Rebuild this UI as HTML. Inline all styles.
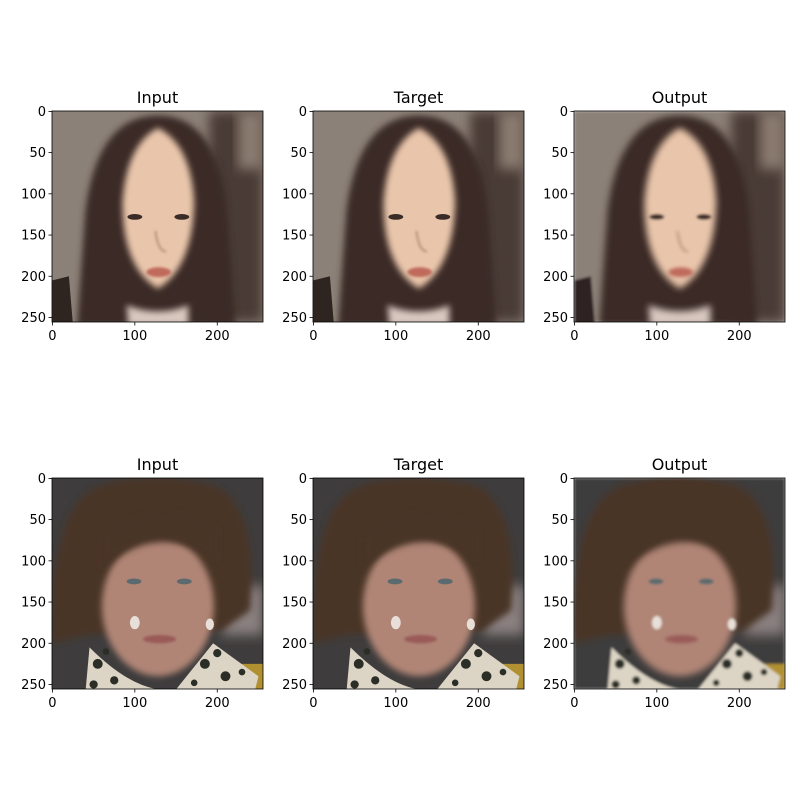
<!DOCTYPE html>
<html><head><meta charset="utf-8"><style>
html,body{margin:0;padding:0;background:#fff;}
svg text{font-family:"DejaVu Sans","Liberation Sans",sans-serif;fill:#000;}
</style></head><body>
<svg id="fig" width="800" height="800" viewBox="0 0 800 800">
<defs>
<filter id="bl" x="-20%" y="-20%" width="140%" height="140%"><feGaussianBlur stdDeviation="4"/></filter>
<filter id="bl2" x="-20%" y="-20%" width="140%" height="140%"><feGaussianBlur stdDeviation="7"/></filter>
<filter id="bls" x="-50%" y="-50%" width="200%" height="200%"><feGaussianBlur stdDeviation="1.5"/></filter>
<clipPath id="clip"><rect x="-0.5" y="-0.5" width="256" height="256"/></clipPath>
<g id="face1">
  <rect x="-0.5" y="-0.5" width="256" height="256" fill="#8c8178"/>
  <rect x="190" y="-0.5" width="66" height="256" fill="#4a3a34" filter="url(#bl2)"/>
  <rect x="225" y="0" width="31" height="70" fill="#8a7a70" filter="url(#bl2)"/>
  <path d="M30 260 L40 120 Q55 5 128 5 Q200 5 212 120 L222 260 Z" fill="#3a2c28" filter="url(#bl)"/>
  <path d="M0 205 L20 200 L25 260 L0 260 Z" fill="#2e2420"/>
  <path d="M128 20 Q90 40 85 110 Q85 190 128 215 Q170 190 172 110 Q168 40 128 20 Z" fill="#e9c6ab" filter="url(#bl)"/>
  <path d="M90 235 Q128 250 165 235 L165 260 L92 260 Z" fill="#d8c8c0" filter="url(#bl)"/>
  <ellipse cx="100" cy="128" rx="9" ry="3.5" fill="#3a2a28"/>
  <ellipse cx="157" cy="128" rx="9" ry="3.5" fill="#3a2a28"/>
  <ellipse cx="129" cy="195" rx="15" ry="6" fill="#c06a5c" filter="url(#bls)"/>
  <path d="M125 145 Q128 170 138 170" stroke="#c09a84" stroke-width="3" fill="none" filter="url(#bls)"/>
</g>
<g id="face2">
  <rect x="-0.5" y="-0.5" width="256" height="256" fill="#3e3c3c"/>
  <rect x="205" y="130" width="51" height="60" fill="#8a8080" filter="url(#bl2)"/>
  <rect x="225" y="225" width="31" height="31" fill="#b09030"/>
  <path d="M0 200 Q-5 30 60 8 Q128 -10 200 10 Q250 40 240 160 L205 185 L40 190 Z" fill="#4a3428" filter="url(#bl)"/>
  <ellipse cx="128" cy="155" rx="68" ry="85" fill="#b08576" filter="url(#bl)"/>
  <path d="M60 110 Q128 50 200 100 L200 60 Q128 20 60 70 Z" fill="#4a3428" filter="url(#bl)"/>
  <path d="M40 260 L45 205 Q90 250 128 256 Z" fill="#dcd4c4"/>
  <path d="M150 256 L195 200 L250 240 L245 260 Z" fill="#dcd4c4"/>
  <g fill="#2a2e26">
    <circle cx="55" cy="225" r="6"/><circle cx="65" cy="210" r="4"/><circle cx="75" cy="245" r="5"/>
    <circle cx="50" cy="250" r="5"/><circle cx="185" cy="225" r="6"/><circle cx="210" cy="240" r="6"/>
    <circle cx="200" cy="212" r="5"/><circle cx="230" cy="235" r="4"/><circle cx="172" cy="248" r="4"/>
  </g>
  <ellipse cx="99" cy="125" rx="9" ry="3.5" fill="#5a6a6e"/>
  <ellipse cx="160" cy="125" rx="9" ry="3.5" fill="#5a6a6e"/>
  <ellipse cx="130" cy="195" rx="20" ry="5" fill="#9a5a58" filter="url(#bls)"/>
  <ellipse cx="100" cy="175" rx="6" ry="8" fill="#e8e0d8"/>
  <ellipse cx="191" cy="177" rx="5" ry="7" fill="#e8e0d8"/>
</g>
</defs>
<g id="axes"></g>
</svg>
<script>
const panelTitles = ["Input","Target","Output"];
const xTicks = [0,100,200];
const yTicks = [0,50,100,150,200,250];
const rowFaces = ["face1","face2"];
const colX = [52,313,574];
const rowY = [111,478];
const W = 211, N = 256;
const NS = "http://www.w3.org/2000/svg";
const root = document.getElementById('axes');
function mk(tag, attrs, parent){const e=document.createElementNS(NS,tag);for(const k in attrs)e.setAttribute(k,attrs[k]);parent.appendChild(e);return e;}
const sc = v => (v+0.5)/N*W;
rowFaces.forEach((face,r)=>{
  panelTitles.forEach((t,c)=>{
    const x0=colX[c], y0=rowY[r];
    const g=mk('g',{},root);
    
    
    const img=mk('g',{transform:`translate(${x0+W*0.5/N},${y0+W*0.5/N}) scale(${W/N})`,'clip-path':'url(#clip)'},g);
    
    
    const u=mk('use',{href:'#'+face},img);
    if(c===2) u.setAttribute('filter','url(#bls)');
    const fr=mk('rect',{x:x0,y:y0,width:W,height:W,fill:'none',stroke:'#000','stroke-width':0.8},g);
    
    
    const tt=mk('text',{x:x0+W/2,y:y0-8,'text-anchor':'middle','font-size':16},g);
    tt.textContent=t;
    
    
    xTicks.forEach(v=>{
      const x=x0+sc(v);
      const l=mk('line',{x1:x,x2:x,y1:y0+W,y2:y0+W+3.5,stroke:'#000','stroke-width':0.8},g);
      
      
      const tx=mk('text',{x:x,y:y0+W+18,'text-anchor':'middle','font-size':13},g);
      tx.textContent=v;
      
      
    });
    yTicks.forEach(v=>{
      const y=y0+sc(v);
      const l=mk('line',{x1:x0-3.5,x2:x0,y1:y,y2:y,stroke:'#000','stroke-width':0.8},g);
      
      
      const ty=mk('text',{x:x0-6,y:y+4.5,'text-anchor':'end','font-size':13},g);
      ty.textContent=v;
      
      
    });
  });
});
</script>
</body></html>
